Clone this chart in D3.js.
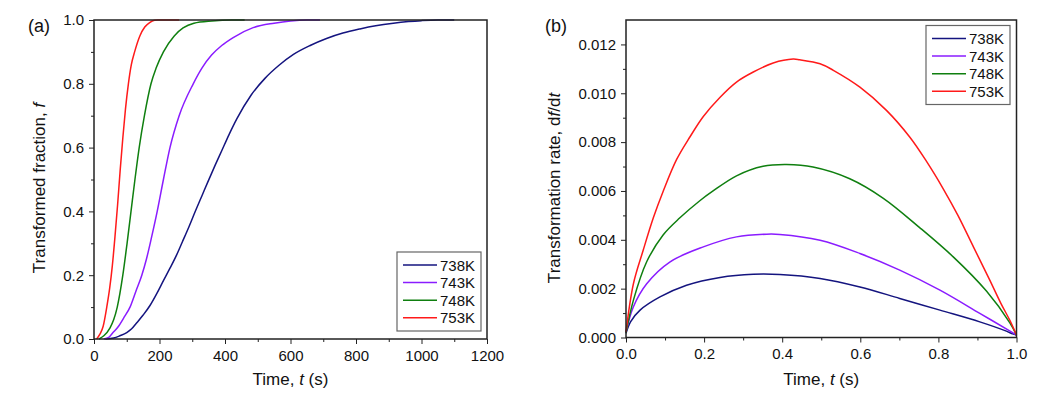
<!DOCTYPE html>
<html>
<head>
<meta charset="utf-8">
<script src="https://cdn.jsdelivr.net/npm/d3@7"></script>
<style>
  body { margin: 0; background: #fff; }
  text { font-family: Arial, "Liberation Sans", sans-serif; fill: #111; }
  .axis path, .axis line { stroke: #222; }
  .axis text { font-size: 15px; }
</style>
</head>
<body>
<div id="chart"></div>
<script>
// series names + colours
var seriesNames = ["738K", "743K", "748K", "753K"];
var seriesColors = ["#14147f", "#8a1cff", "#0f7f0f", "#ff1a1a"];

// panel (a): transformed fraction vs time
var time738 = [35, 60, 79, 100, 115, 130, 150, 171, 192, 212, 232, 252, 270, 290, 310, 330, 350, 370, 390, 412, 436, 480, 522, 565, 609, 660, 710, 760, 812, 860, 914, 960, 1000, 1050, 1100];
var frac738 = [0, 0.003, 0.01, 0.02, 0.032, 0.05, 0.075, 0.105, 0.143, 0.183, 0.222, 0.263, 0.305, 0.352, 0.402, 0.45, 0.498, 0.545, 0.59, 0.64, 0.69, 0.765, 0.817, 0.858, 0.892, 0.92, 0.942, 0.959, 0.972, 0.982, 0.99, 0.995, 0.998, 1, 1];
var time743 = [30, 45, 58, 75, 90, 110, 128, 146, 160, 176, 193, 212, 232, 260, 303, 330, 359, 390, 425, 486, 550, 600, 650, 690];
var frac743 = [0, 0.005, 0.02, 0.04, 0.065, 0.1, 0.15, 0.2, 0.25, 0.32, 0.4, 0.5, 0.6, 0.7, 0.8, 0.85, 0.89, 0.92, 0.945, 0.976, 0.99, 0.997, 1, 1];
var time748 = [15, 30, 49, 60, 71, 88, 101, 113, 125, 138, 154, 174, 190, 212, 245, 272, 305, 360, 420, 460];
var frac748 = [0, 0.01, 0.035, 0.06, 0.1, 0.2, 0.3, 0.4, 0.5, 0.6, 0.7, 0.8, 0.85, 0.9, 0.95, 0.975, 0.99, 0.997, 1, 1];
var time753 = [8, 18, 28, 39, 48, 56, 64, 72, 80, 88, 96, 105, 114, 124, 140, 155, 170, 185, 195, 260];
var frac753 = [0, 0.015, 0.04, 0.1, 0.16, 0.23, 0.32, 0.42, 0.53, 0.63, 0.72, 0.8, 0.86, 0.9, 0.95, 0.978, 0.992, 0.999, 1, 1];

// panel (b): transformation rate vs normalised time
var tn738 = [0, 0.012, 0.036, 0.087, 0.155, 0.241, 0.326, 0.394, 0.497, 0.599, 0.701, 0.804, 0.906, 0.974, 0.99, 1.0];
var rate738 = [0.00017, 0.00065, 0.00112, 0.00166, 0.00214, 0.00246, 0.00259, 0.00258, 0.00242, 0.00207, 0.0016, 0.00112, 0.00064, 0.00026, 0.00015, 0.0001];
var tn743 = [0, 0.019, 0.053, 0.113, 0.198, 0.283, 0.36, 0.394, 0.497, 0.599, 0.701, 0.804, 0.906, 0.99, 1.0];
var rate743 = [0.00022, 0.00126, 0.0022, 0.0031, 0.00371, 0.00412, 0.00423, 0.00422, 0.00398, 0.00344, 0.00276, 0.00194, 0.00099, 0.0002, 0.0001];
var tn748 = [0, 0.019, 0.053, 0.095, 0.138, 0.189, 0.223, 0.283, 0.351, 0.411, 0.479, 0.573, 0.659, 0.752, 0.838, 0.923, 0.983, 1.0];
var rate748 = [0.0002, 0.00153, 0.0031, 0.0042, 0.0049, 0.0056, 0.006, 0.00662, 0.00701, 0.00708, 0.00698, 0.0065, 0.0057, 0.0045, 0.0033, 0.0019, 0.0006, 0.0001];
var tn753 = [0, 0.019, 0.044, 0.07, 0.0955, 0.13, 0.164, 0.198, 0.241, 0.283, 0.326, 0.377, 0.428, 0.445, 0.497, 0.531, 0.599, 0.667, 0.727, 0.77, 0.812, 0.85, 0.89, 0.93, 0.96, 0.983, 1.0];
var rate753 = [0.00023, 0.0022, 0.00357, 0.0049, 0.006, 0.0073, 0.00822, 0.00905, 0.00984, 0.01046, 0.01087, 0.01124, 0.0114, 0.01137, 0.01121, 0.01094, 0.01025, 0.0093, 0.0082, 0.0072, 0.0061, 0.005, 0.0037, 0.0024, 0.0014, 0.0007, 0.0001];

// tick values
var ticksA_x = [0, 200, 400, 600, 800, 1000, 1200];
var ticksA_y = [0, 0.2, 0.4, 0.6, 0.8, 1.0];
var ticksB_x = [0, 0.2, 0.4, 0.6, 0.8, 1.0];
var ticksB_y = [0, 0.002, 0.004, 0.006, 0.008, 0.010, 0.012];

var svgWidth = 1038;
var svgHeight = 395;

var svg = d3.select("#chart")
  .append("svg")
  .attr("width", svgWidth)
  .attr("height", svgHeight);

function zip(xs, ys) {
  return xs.map(function(x, i) { return [x, ys[i]]; });
}

var dataA = [zip(time738, frac738), zip(time743, frac743), zip(time748, frac748), zip(time753, frac753)];
var dataB = [zip(tn738, rate738), zip(tn743, rate743), zip(tn748, rate748), zip(tn753, rate753)];

// draws one panel
function drawPanel(opts) {
  var x = d3.scaleLinear().domain(opts.xDomain).range([opts.left, opts.right]);
  var y = d3.scaleLinear().domain(opts.yDomain).range([opts.bottom, opts.top]);

  var g = svg.append("g");

  // minor ticks
  g.append("g")
    .attr("class", "axis")
    .attr("transform", "translate(0," + opts.bottom + ")")
    .call(d3.axisBottom(x).tickValues(opts.xMinor).tickSize(3).tickSizeOuter(0).tickFormat(""))
    .select(".domain").remove();
  g.append("g")
    .attr("class", "axis")
    .attr("transform", "translate(" + opts.left + ",0)")
    .call(d3.axisLeft(y).tickValues(opts.yMinor).tickSize(3).tickSizeOuter(0).tickFormat(""))
    .select(".domain").remove();

  // major ticks
  g.append("g")
    .attr("class", "axis")
    .attr("transform", "translate(0," + opts.bottom + ")")
    .call(d3.axisBottom(x).tickValues(opts.xTicks).tickSize(5).tickSizeOuter(0).tickPadding(6).tickFormat(opts.xFormat))
    .select(".domain").remove();
  g.append("g")
    .attr("class", "axis")
    .attr("transform", "translate(" + opts.left + ",0)")
    .call(d3.axisLeft(y).tickValues(opts.yTicks).tickSize(5).tickSizeOuter(0).tickPadding(5).tickFormat(opts.yFormat))
    .select(".domain").remove();

  // curves
  var line = d3.line()
    .x(function(d) { return x(d[0]); })
    .y(function(d) { return y(d[1]); })
    .curve(opts.curve);

  g.selectAll(".series")
    .data(opts.data)
    .enter()
    .append("path")
    .attr("d", line)
    .attr("fill", "none")
    .attr("stroke", function(d, i) { return seriesColors[i]; })
    .attr("stroke-width", 1.5);

  // frame
  g.append("rect")
    .attr("x", opts.left)
    .attr("y", opts.top)
    .attr("width", opts.right - opts.left)
    .attr("height", opts.bottom - opts.top)
    .attr("fill", "none")
    .attr("stroke", "#222")
    .attr("stroke-width", 1.5);

  // legend
  var lg = g.append("g").attr("transform", "translate(" + opts.legendX + "," + opts.legendY + ")");
  lg.append("rect")
    .attr("width", 84)
    .attr("height", 79)
    .attr("fill", "#fff")
    .attr("stroke", "#666")
    .attr("stroke-width", 1.2);
  seriesNames.forEach(function(name, i) {
    var row = 13 + i * 17.6;
    lg.append("line")
      .attr("x1", 6).attr("x2", 40)
      .attr("y1", row).attr("y2", row)
      .attr("stroke", seriesColors[i])
      .attr("stroke-width", 1.5);
    lg.append("text")
      .attr("x", 43)
      .attr("y", row + 5.5)
      .style("font-size", "15px")
      .text(name);
  });

  // panel label
  svg.append("text")
    .attr("x", opts.labelX)
    .attr("y", 32)
    .style("font-size", "18px")
    .text(opts.label);

  // x title
  var xt = svg.append("text")
    .attr("x", (opts.left + opts.right) / 2)
    .attr("y", 385)
    .attr("text-anchor", "middle")
    .style("font-size", "17px");
  xt.append("tspan").text("Time, ");
  xt.append("tspan").style("font-style", "italic").text("t");
  xt.append("tspan").text(" (s)");

  // y title
  var yt = svg.append("text")
    .attr("transform", "translate(" + opts.yTitleX + ",188) rotate(-90)")
    .attr("text-anchor", "middle")
    .style("font-size", "17px");
  opts.yTitle.forEach(function(p) {
    yt.append("tspan").style("font-style", p[1] ? "italic" : "normal").text(p[0]);
  });
}

drawPanel({
  data: dataA,
  curve: d3.curveMonotoneX,
  left: 94, right: 487, top: 20, bottom: 339,
  xDomain: [0, 1200], yDomain: [0, 1.0],
  xTicks: ticksA_x, yTicks: ticksA_y,
  xMinor: d3.range(100, 1200, 200), yMinor: d3.range(0.1, 1.0, 0.2),
  xFormat: d3.format("d"), yFormat: d3.format(".1f"),
  legendX: 397, legendY: 252,
  label: "(a)", labelX: 28,
  yTitleX: 45,
  yTitle: [["Transformed fraction, ", false], ["f", true]]
});

drawPanel({
  data: dataB,
  curve: d3.curveCatmullRom.alpha(0.5),
  left: 626, right: 1016.5, top: 20, bottom: 337.5,
  xDomain: [0, 1.0], yDomain: [0, 0.013],
  xTicks: ticksB_x, yTicks: ticksB_y,
  xMinor: d3.range(0.1, 1.0, 0.2), yMinor: d3.range(0.001, 0.013, 0.002),
  xFormat: d3.format(".1f"), yFormat: d3.format(".3f"),
  legendX: 926, legendY: 25.5,
  label: "(b)", labelX: 545,
  yTitleX: 560,
  yTitle: [["Transformation rate, d", false], ["f", true], ["/d", false], ["t", true]]
});
</script>
</body>
</html>
